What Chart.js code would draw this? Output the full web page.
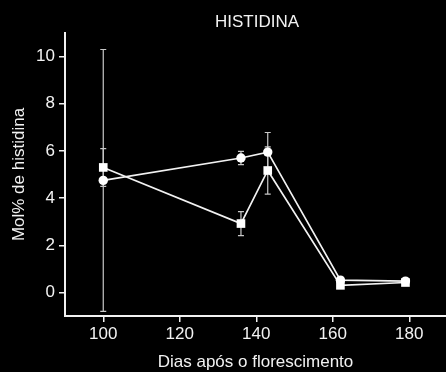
<!DOCTYPE html>
<html>
<head>
<meta charset="utf-8">
<script src="https://cdn.jsdelivr.net/npm/chart.js@4"></script>
<style>
  html, body { margin: 0; padding: 0; background: #000; }
  #wrap { width: 446px; height: 372px; position: relative; }
</style>
</head>
<body>
<div id="wrap"><canvas id="c"></canvas></div>
<script>
// Days after flowering and histidine molar percentage, two series
const chartTitle = 'HISTIDINA';
const xTitle = 'Dias após o florescimento';
const yTitle = 'Mol% de histidina';

const days = [100, 136, 143, 162, 179];
const circleValues = [4.75, 5.70, 5.95, 0.52, 0.48];
const circleErrors = [5.55, 0.28, 0.83, 0.10, 0.05];
const squareValues = [5.30, 2.92, 5.17, 0.30, 0.42];
const squareErrors = [0.80, 0.51, 1.00, 0.08, 0.05];

const xTicks = [100, 120, 140, 160, 180];
const yTicks = [0, 2, 4, 6, 8, 10];

const FONT = 'Arial, "Liberation Sans", Helvetica, sans-serif';
const FG = '#f2f2f2';

function toPoints(xs, ys, errs) {
  return xs.map((x, i) => ({ x: x, y: ys[i], err: errs[i] }));
}

// Vertical error bars with caps, drawn below the markers
const errorBars = {
  id: 'errorBars',
  beforeDatasetsDraw(chart) {
    const { ctx, scales: { x, y } } = chart;
    ctx.save();
    ctx.strokeStyle = '#c8c8c8';
    ctx.lineWidth = 1.2;
    chart.data.datasets.forEach(ds => {
      ds.data.forEach(p => {
        if (!p.err) return;
        const px = x.getPixelForValue(p.x);
        const top = y.getPixelForValue(p.y + p.err);
        const bot = y.getPixelForValue(p.y - p.err);
        ctx.beginPath();
        ctx.moveTo(px, top); ctx.lineTo(px, bot);
        ctx.moveTo(px - 3, top); ctx.lineTo(px + 3, top);
        ctx.moveTo(px - 3, bot); ctx.lineTo(px + 3, bot);
        ctx.stroke();
      });
    });
    ctx.restore();
  }
};

// Black backdrop and the centred heading
const frame = {
  id: 'frame',
  beforeDraw(chart) {
    const { ctx, width, height } = chart;
    ctx.save();
    ctx.fillStyle = '#000';
    ctx.fillRect(0, 0, width, height);
    ctx.restore();
  },
  afterDraw(chart) {
    const { ctx } = chart;
    ctx.save();
    ctx.fillStyle = FG;
    ctx.font = '17px ' + FONT;
    ctx.textAlign = 'center';
    ctx.textBaseline = 'middle';
    ctx.fillText(chartTitle, 257, 22);
    ctx.restore();
  }
};

new Chart(document.getElementById('c'), {
  type: 'line',
  data: {
    datasets: [
      {
        data: toPoints(days, circleValues, circleErrors),
        borderColor: FG,
        backgroundColor: '#ffffff',
        borderWidth: 1.7,
        pointStyle: 'circle',
        pointRadius: 4.7,
        pointBorderWidth: 0,
        pointBackgroundColor: '#ffffff',
        tension: 0
      },
      {
        data: toPoints(days, squareValues, squareErrors),
        borderColor: FG,
        backgroundColor: '#ffffff',
        borderWidth: 1.7,
        pointStyle: 'rect',
        pointRadius: 6.1,
        pointBorderWidth: 0,
        pointBackgroundColor: '#ffffff',
        tension: 0
      }
    ]
  },
  options: {
    responsive: true,
    maintainAspectRatio: false,
    animation: false,
    layout: { autoPadding: false, padding: { top: 33, right: 0, left: 0, bottom: 0 } },
    plugins: {
      legend: { display: false },
      tooltip: { enabled: false },
      title: { display: false }
    },
    scales: {
      x: {
        type: 'linear',
        min: 90,
        max: 189.6,
        afterBuildTicks: s => { s.ticks = xTicks.map(v => ({ value: v })); },
        afterFit: s => { s.height = 56; s.paddingLeft = 0; s.paddingRight = 0; },
        border: { display: true, color: FG, width: 2 },
        grid: { display: true, drawOnChartArea: false, drawTicks: true, tickLength: 6, color: FG, lineWidth: 1.5 },
        ticks: { color: FG, font: { family: FONT, size: 17 }, padding: 2, maxRotation: 0 },
        title: { display: true, text: xTitle, color: FG, font: { family: FONT, size: 17, lineHeight: 1 }, padding: { top: 0, bottom: 1 } }
      },
      y: {
        type: 'linear',
        min: -1,
        max: 11,
        afterBuildTicks: s => { s.ticks = yTicks.map(v => ({ value: v })); },
        afterFit: s => { s.width = 65; },
        border: { display: true, color: FG, width: 2 },
        grid: { display: true, drawOnChartArea: false, drawTicks: true, tickLength: 6, color: FG, lineWidth: 1.5 },
        ticks: { color: FG, font: { family: FONT, size: 17 }, padding: 4 },
        title: { display: true, text: yTitle, color: FG, font: { family: FONT, size: 17, lineHeight: 1.2 }, padding: { top: 9, bottom: 0 } }
      }
    }
  },
  plugins: [frame, errorBars]
});
</script>
</body>
</html>
